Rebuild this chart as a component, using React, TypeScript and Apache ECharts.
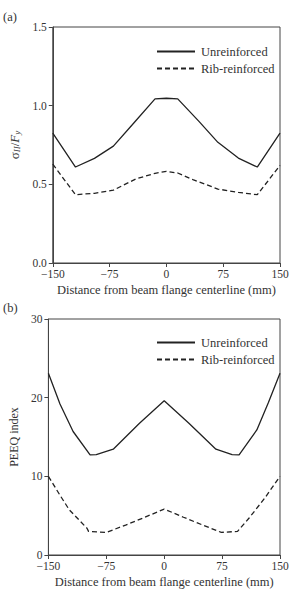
import React, { useEffect, useRef } from "react";
import * as echarts from "echarts";

// Panel (a): normalized stress sigma_II / F_y
const xA_unr = [-150, -120, -95, -70, -43, -15, 0, 15, 43, 68, 95, 120, 150];
const yA_unr = [0.826, 0.61, 0.665, 0.743, 0.89, 1.043, 1.047, 1.043, 0.9, 0.767, 0.667, 0.61, 0.826];
const xA_rib = [-150, -120, -95, -70, -40, -15, 0, 15, 35, 68, 95, 120, 150];
const yA_rib = [0.628, 0.434, 0.443, 0.463, 0.535, 0.57, 0.582, 0.572, 0.53, 0.47, 0.449, 0.434, 0.62];

// Panel (b): PEEQ index
const xB_unr = [-150, -135, -118, -96, -88, -66, -32, 0, 32, 67, 88, 97, 120, 135, 150];
const yB_unr = [23.1, 19.2, 15.7, 12.73, 12.75, 13.45, 16.75, 19.6, 16.75, 13.45, 12.75, 12.73, 15.9, 19.4, 23.1];
const xB_rib = [-150, -135, -123, -100, -98, -75, -50, -25, 0, 25, 50, 74, 95, 110, 130, 150];
const yB_rib = [10.0, 7.6, 5.75, 3.4, 3.0, 2.87, 3.8, 4.8, 5.84, 4.8, 3.8, 2.87, 3.0, 4.7, 7.2, 10.0];

const xTicks = { min: -150, max: 150, interval: 75 };
const seriesNames = ["Unreinforced", "Rib-reinforced"];

const FONT = '"Liberation Serif", "DejaVu Serif", serif';
const TXT = "#333";
const LINE = "#222";

function pairs(xs: number[], ys: number[]) {
  return xs.map((x, i) => [x, ys[i]]);
}

export default function App() {
  const ref = useRef<HTMLDivElement>(null);
  useEffect(() => {
    if (!ref.current) return;
    const chart = echarts.init(ref.current, null, { renderer: "svg" });
    const xAxisBase = (gridIndex: number) => ({
      type: "value",
      gridIndex,
      min: xTicks.min,
      max: xTicks.max,
      interval: xTicks.interval,
      name: "Distance from beam flange centerline (mm)",
      nameLocation: "middle",
      nameGap: 20,
      nameTextStyle: { fontFamily: FONT, fontSize: 12.5, color: TXT },
      axisLine: { show: true, onZero: false, lineStyle: { color: "#444", width: 1 } },
      axisTick: { show: true, inside: false, length: 4, lineStyle: { color: "#444" } },
      axisLabel: {
        fontFamily: FONT,
        fontSize: 11.5,
        color: TXT,
        margin: 5,
        formatter: (v: number) => String(v).replace("-", "\u2212"),
      },
      splitLine: { show: false },
    });
    const yAxisBase = (gridIndex: number, max: number, interval: number, fmt: (v: number) => string) => ({
      type: "value",
      gridIndex,
      min: 0,
      max,
      interval,
      nameLocation: "middle",
      nameRotate: 90,
      axisLine: { show: true, onZero: false, lineStyle: { color: "#444", width: 1 } },
      axisTick: { show: true, inside: false, length: 4, lineStyle: { color: "#444" } },
      axisLabel: { fontFamily: FONT, fontSize: 11.5, color: TXT, margin: 6, formatter: fmt },
      splitLine: { show: false },
    });
    const lineSeries = (name: string, data: number[][], idx: number, dashed: boolean) => ({
      name,
      type: "line",
      xAxisIndex: idx,
      yAxisIndex: idx,
      data,
      symbol: "none",
      lineStyle: { color: LINE, width: 1.3, type: dashed ? [5, 3] : "solid" },
      itemStyle: { color: LINE },
    });
    const legendBase = (top: number) => ({
      orient: "vertical",
      left: 151,
      top,
      itemWidth: 38,
      itemHeight: 10,
      itemGap: 4,
      itemStyle: { opacity: 0, color: "transparent", borderWidth: 0 },
      textStyle: { fontFamily: FONT, fontSize: 12.5, color: TXT, padding: [0, 0, 0, 1] },
      data: seriesNames,
    });
    chart.setOption({
      animation: false,
      backgroundColor: "#fff",
      grid: [
        { left: 44, top: 27, width: 236, height: 236, show: true, borderColor: "#444", borderWidth: 1 },
        { left: 44, top: 319, width: 236, height: 236, show: true, borderColor: "#444", borderWidth: 1 },
      ],
      legend: [{ ...legendBase(40) }, { ...legendBase(331) }],
      xAxis: [xAxisBase(0), xAxisBase(1)],
      yAxis: [
        {
          ...yAxisBase(0, 1.5, 0.5, (v: number) => v.toFixed(1)),
          name: "{s|σ}{sub|II}{s|/}{i|F}{sub|y}",
          nameGap: 28,
          nameTextStyle: {
            fontFamily: FONT,
            fontSize: 12,
            color: TXT,
            rich: {
              s: { fontFamily: FONT, fontSize: 13, color: TXT },
              i: { fontFamily: FONT, fontSize: 13, fontStyle: "italic", color: TXT },
              sub: { fontFamily: FONT, fontSize: 9, fontStyle: "italic", color: TXT, verticalAlign: "bottom", padding: [5, 0, 0, 0] },
            },
          },
        },
        {
          ...yAxisBase(1, 30, 10, (v: number) => String(v)),
          name: "PEEQ index",
          nameGap: 27,
          nameTextStyle: { fontFamily: FONT, fontSize: 12, color: TXT },
        },
      ],
      series: [
        lineSeries(seriesNames[0], pairs(xA_unr, yA_unr), 0, false),
        lineSeries(seriesNames[1], pairs(xA_rib, yA_rib), 0, true),
        lineSeries(seriesNames[0], pairs(xB_unr, yB_unr), 1, false),
        lineSeries(seriesNames[1], pairs(xB_rib, yB_rib), 1, true),
      ],
      graphic: [
        { type: "text", left: 3, top: 10, style: { text: "(a)", font: `12.5px ${FONT}`, fill: TXT } },
        { type: "text", left: 3, top: 301, style: { text: "(b)", font: `12.5px ${FONT}`, fill: TXT } },
      ],
    });
    return () => chart.dispose();
  }, []);
  return (
    <div
      ref={ref}
      style={{ position: "fixed", left: 0, top: 0, width: 302, height: 589, background: "#fff" }}
    />
  );
}
